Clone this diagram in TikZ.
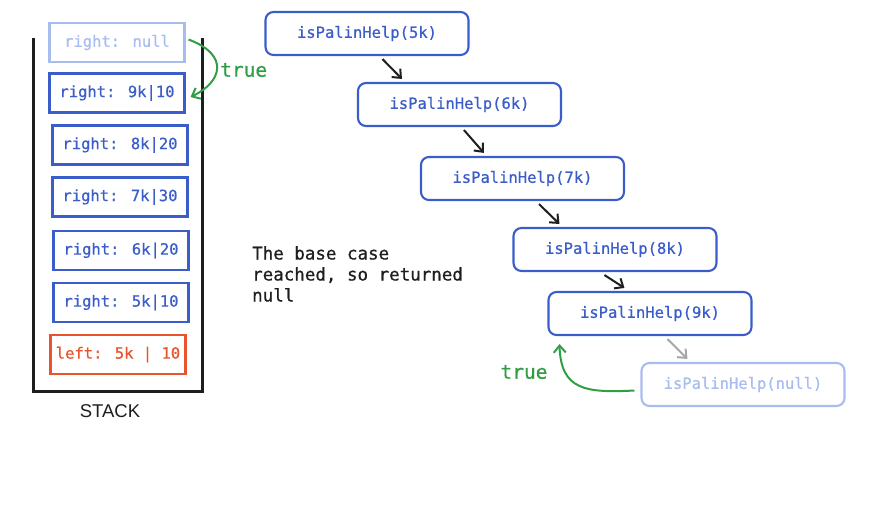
\documentclass[tikz,border=0pt]{standalone}
\usepackage{fontspec}
\setmonofont{DejaVu Sans Mono}
\newfontface\monomed{DejaVu Sans Mono}[FakeBold=0.7]
\setsansfont{Liberation Sans}
\usetikzlibrary{arrows.meta,calc}
\definecolor{cblue}{HTML}{3B5DC9}
\definecolor{clight}{HTML}{A9BCF0}
\definecolor{cred}{HTML}{E8542C}
\definecolor{cgreen}{HTML}{2F9E44}
\definecolor{cink}{HTML}{1E1E1E}
\begin{document}
\begin{tikzpicture}[x=1pt,y=-1pt,
  stackbox/.style={draw=cblue,text=cblue,line width=2.1pt,minimum width=135pt,minimum height=39pt,inner sep=0pt,font=\monomed\fontsize{15.5}{18}\selectfont},
  stacklight/.style={stackbox,draw=clight,text=clight},
  stackred/.style={stackbox,draw=cred,text=cred},
  callbox/.style={draw=cblue,text=cblue,line width=2.1pt,rounded corners=8pt,minimum width=203pt,minimum height=43pt,inner sep=0pt,font=\monomed\fontsize{15.5}{18}\selectfont},
  calllight/.style={callbox,draw=clight,text=clight},
  callarrow/.style={draw=cink,line width=2pt,-{Straight Barb[length=7pt,width=12pt]}},
  grayarrow/.style={callarrow,draw=gray!70},
  greenarrow/.style={draw=cgreen,line width=2pt,-{Straight Barb[length=7pt,width=12pt]}},
  greenlabel/.style={text=cgreen,font=\monomed\fontsize{19.5}{22}\selectfont,inner sep=0pt},
  wall/.style={draw=cink,line width=3pt}
]
\useasboundingbox (0,0) rectangle (870,504);
% stack container
\coordinate (wtl) at (33,38);
\coordinate (wbl) at (33,391);
\coordinate (wbr) at (202,391);
\coordinate (wtr) at (202,38);
\draw[wall] (wtl) -- (wbl) -- (wbr) -- (wtr);
\node[font=\sffamily\fontsize{18.5}{20}\selectfont,text=cink] (stacklbl) at (110,411) {STACK};
% stack entries
\node[stacklight] (snull) at (117,42.5) {right: null};
\node[stackbox] (s9) at (117,93) {right: 9k|10};
\node[stackbox] (s8) at (120,145) {right: 8k|20};
\node[stackbox] (s7) at (120,197) {right: 7k|30};
\node[stackbox] (s6) at (121,250.5) {right: 6k|20};
\node[stackbox] (s5) at (121,302.5) {right: 5k|10};
\node[stackred] (sl5) at (118,354.5) {left: 5k | 10};
% green return on stack
\node[greenlabel,anchor=west] (ttop) at (220,70) {true};
\draw[greenarrow] ($(snull.east)+(3,-3)$) .. controls (230,55) and (222,82) .. ($(s9.east)+(5,4)$);
% description
\node[align=left,anchor=north west,inner sep=0pt,text=cink,font=\monomed\fontsize{17.5}{21}\selectfont] (desc) at (252,246) {The base case\\reached, so returned\\null};
% calls
\node[callbox] (c5) at (367,33.5) {isPalinHelp(5k)};
\node[callbox] (c6) at (459.5,104.5) {isPalinHelp(6k)};
\node[callbox] (c7) at (522.5,178.5) {isPalinHelp(7k)};
\node[callbox] (c8) at (615,249.5) {isPalinHelp(8k)};
\node[callbox] (c9) at (650,313.5) {isPalinHelp(9k)};
\node[calllight] (cn) at (743,384.5) {isPalinHelp(null)};
\draw[callarrow] ($(c5.south west)+(118,3)$) -- ($(c6.north west)+(45,-3)$);
\draw[callarrow] ($(c6.south west)+(107,3)$) -- ($(c7.north west)+(64,-3)$);
\draw[callarrow] ($(c7.south west)+(119,3)$) -- ($(c8.north west)+(47,-3)$);
\draw[callarrow] ($(c8.south west)+(92,3)$) -- ($(c9.north west)+(77,-3)$);
\draw[grayarrow] ($(c9.south west)+(120,3)$) -- ($(cn.north west)+(47,-3)$);
% green return from null
\draw[greenarrow] ($(cn.west)+(-6,6)$) .. controls (585,393) and (561,390) .. ($(c9.south west)+(12,8)$);
\node[greenlabel] (tbot) at (524,372) {true};
\end{tikzpicture}
\end{document}
